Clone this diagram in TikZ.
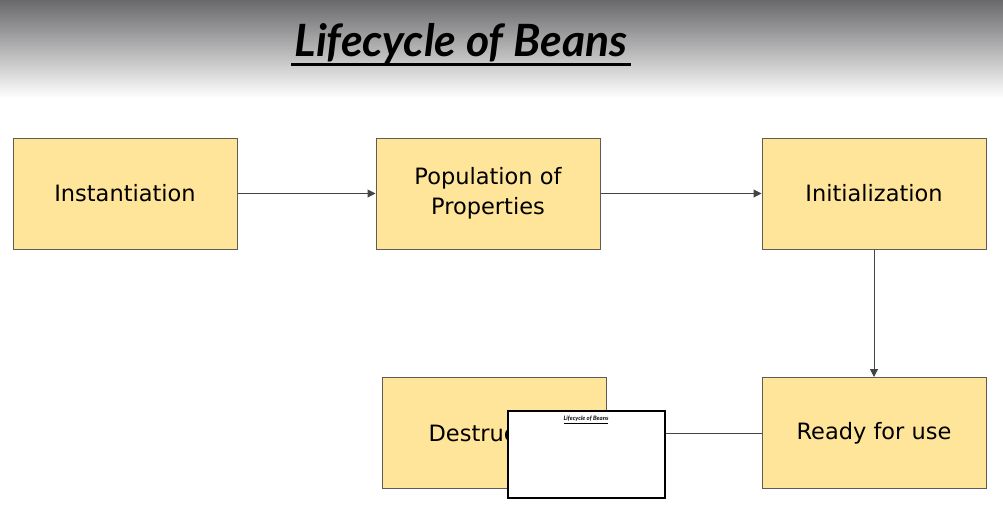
\documentclass[tikz,border=0pt]{standalone}
\usepackage{fontspec}
\setmainfont{Lato}
\newfontfamily\stagefont{DejaVu Sans}
\usetikzlibrary{arrows.meta,positioning}
\definecolor{beanfill}{RGB}{255,229,153}
\definecolor{beanedge}{RGB}{95,92,84}
\definecolor{arrgray}{RGB}{68,68,68}
\definecolor{topgray}{RGB}{105,105,108}
\begin{document}
\begin{tikzpicture}[x=1pt,y=-1pt,
 stage/.style={draw=beanedge, line width=1pt, fill=beanfill, align=center, minimum width=224pt, minimum height=111pt, inner sep=0pt, font=\stagefont\fontsize{22.5}{30}\selectfont},
 arr/.style={-{Triangle[length=8pt,width=8pt]}, line width=1pt, color=arrgray}]
\useasboundingbox (0,0) rectangle (1003,517);
\shade[top color=topgray, bottom color=white] (0,0) rectangle (1003,98);
\node[font=\fontsize{44.5}{50}\bfseries\itshape\selectfont] (title) at (461,44) {Lifecycle of Beans};
\draw[line width=2.6pt] ([yshift=-7.5pt]title.base west) -- ([yshift=-7.5pt]title.base east);
\node[stage] (inst) at (125,193.5) {Instantiation};
\node[stage] (pop) at (488,193.5) {Population of\\Properties};
\node[stage] (init) at (874,193.5) {Initialization};
\node[stage] (ready) at (874,433) {Ready for use};
\node[stage] (destr) at (494,433) {Destruction};
\draw[arr] (inst)--(pop);
\draw[arr] (pop)--(init);
\draw[arr] (init)--(ready);
\draw[arr] (ready)--(destr);
% small slide preview laid over the last arrow
\node[draw=black, line width=2pt, fill=white, minimum width=157pt, minimum height=87pt, inner sep=0pt] (thumb) at (586,454) {};
\node[font=\fontsize{6}{7}\bfseries\itshape\selectfont, below=3pt of thumb.north] (thumbtitle) {\underline{Lifecycle of Beans}};
\end{tikzpicture}
\end{document}
